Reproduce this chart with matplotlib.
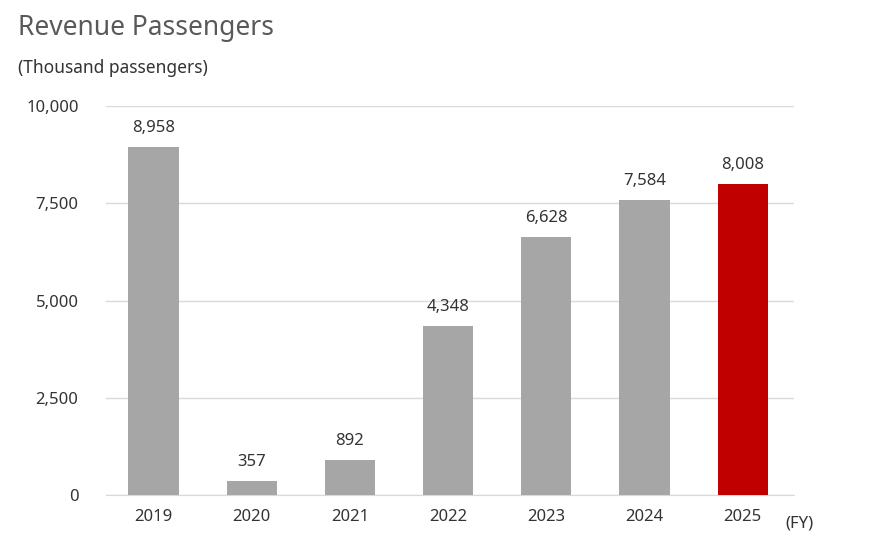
import matplotlib
matplotlib.use("Agg")
import matplotlib.pyplot as plt

years = ["2019", "2020", "2021", "2022", "2023", "2024", "2025"]
values = [8958, 357, 892, 4348, 6628, 7584, 8008]
colors = ["#a6a6a6"] * 6 + ["#c00000"]
yticks = [0, 2500, 5000, 7500, 10000]

plt.rcParams['font.family'] = ['Noto Sans', 'DejaVu Sans']
fig = plt.figure(figsize=(8.79, 5.41), dpi=100)
ax = fig.add_axes([0.121, 0.085, 0.782, 0.719])
x = range(len(years))
ax.bar(x, values, width=0.51, color=colors, zorder=3)
for i, v in zip(x, values):
    ax.text(i, v + 280, f"{v:,}", ha="center", va="bottom", fontsize=12, color="#333333")
ax.set_xlim(-0.48, 6.52)
ax.set_ylim(0, 10000)
ax.set_yticks(yticks)
ax.set_yticklabels([f"{t:,}" for t in yticks])
ax.set_xticks(list(x))
ax.set_xticklabels(years)
ax.grid(axis="y", color="#d9d9d9", linewidth=1, zorder=0)
for s in ["top", "right", "left"]:
    ax.spines[s].set_visible(False)
ax.spines["bottom"].set_color("#d9d9d9")
ax.tick_params(length=0, labelsize=12, colors="#333333")
ax.tick_params(axis="x", pad=10)
ax.tick_params(axis="y", pad=20)
fig.text(0.02, 0.948, "Revenue Passengers", fontsize=19, color="#595959", va="center")
fig.text(0.02, 0.874, "(Thousand passengers)", fontsize=12.5, color="#333333", va="center")
fig.text(0.893, 0.032, "(FY)", fontsize=12, color="#333333", va="center")
fig.savefig("out.png", dpi=100)
